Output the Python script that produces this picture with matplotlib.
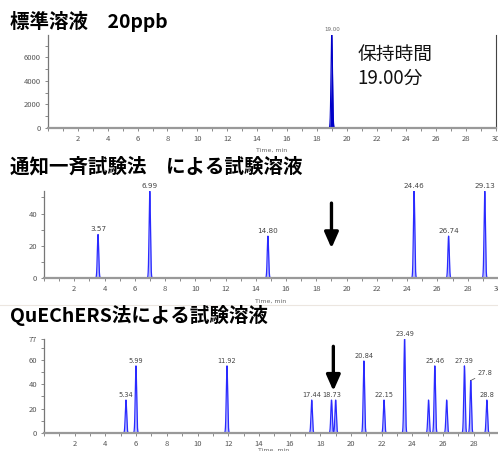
import numpy as np
import matplotlib.pyplot as plt
from matplotlib.ticker import MultipleLocator, FixedLocator

plt.rcParams['font.family'] = ['Noto Sans CJK JP', 'DejaVu Sans']

# ---------------- data ----------------
std_rt = [19.00]
std_h = [8000]
std_labels = ['19.00']

notice_rt = [3.57, 6.99, 14.80, 24.46, 26.74, 29.13]
notice_h = [27, 54, 26, 54, 26, 54]
notice_labels = ['3.57', '6.99', '14.80', '24.46', '26.74', '29.13']

quech_rt = [5.34, 5.99, 11.92, 17.44, 18.73, 19.00, 20.84, 22.15, 23.49,
            25.05, 25.46, 26.23, 27.39, 27.80, 28.85]
quech_h = [27, 55, 55, 27, 27, 27, 59, 27, 77, 27, 55, 27, 55, 43, 27]
quech_labels = ['5.34', '5.99', '11.92', '17.44', '18.73', '', '20.84', '22.15',
                '23.49', '', '25.46', '', '27.39', '27.8', '28.8']

titles = ['標準溶液　20ppb', '通知一斉試験法　による試験溶液', 'QuEChERS法による試験溶液']
target_rt = 19.0

W, H = 498, 451
fig = plt.figure(figsize=(W / 100, H / 100), dpi=100)


def px_axes(left, right, top, bottom):
    return fig.add_axes([left / W, (H - bottom) / H, (right - left) / W, (bottom - top) / H])


t = np.linspace(0, 30, 12001)


def trace(rts, hs, sigma):
    y = np.zeros_like(t)
    for r, h in zip(rts, hs):
        y += h * np.exp(-0.5 * ((t - r) / sigma) ** 2)
    return y


def style(ax, ymax, yticks, yminor, right_spine=False):
    ax.set_xlim(0, 30)
    ax.set_ylim(0, ymax)
    for s in ['top', 'right']:
        ax.spines[s].set_visible(False)
    if right_spine:
        ax.spines['right'].set_visible(True)
        ax.spines['right'].set_color('#444444')
        ax.spines['right'].set_linewidth(0.8)
    ax.spines['left'].set_color('#777777')
    ax.spines['left'].set_linewidth(0.9)
    ax.spines['bottom'].set_color('#999999')
    ax.spines['bottom'].set_linewidth(1.6)
    ax.xaxis.set_major_locator(FixedLocator(list(range(2, 31, 2))))
    ax.xaxis.set_minor_locator(MultipleLocator(1))
    ax.yaxis.set_major_locator(FixedLocator(yticks))
    ax.yaxis.set_minor_locator(MultipleLocator(yminor))
    ax.tick_params(axis='both', which='both', direction='out', color='#777777',
                   labelsize=5.5, labelcolor='#555555', length=2, width=0.6, pad=3)
    ax.patch.set_alpha(0)


# ---------- panel 1 ----------
ax1 = px_axes(48, 496, 35, 128)
y1 = trace(std_rt, std_h, 0.05)
ax1.fill_between(t, 0, y1, color='#0000c8', lw=0)
ax1.plot(t, y1, color='#0000c8', lw=0.8)
style(ax1, 7900, [0, 2000, 4000, 6000], 1000, right_spine=True)
for r, h, lab in zip(std_rt, std_h, std_labels):
    ax1.annotate(lab, (r, h), xytext=(0, 1.5), textcoords='offset points',
                 ha='center', va='bottom', fontsize=4, color='#666666',
                 family='DejaVu Sans', annotation_clip=False)
ax1.text(0.69, 0.66, '保持時間\n19.00分', transform=ax1.transAxes, fontsize=13.5,
         ha='left', va='center', linespacing=1.15, color='#111111')

# ---------- panel 2 ----------
ax2 = px_axes(44, 44 + 30 * 15.13, 191, 278)
y2 = trace(notice_rt, notice_h, 0.045)
ax2.fill_between(t, 0, y2, color='#b4b8ff', lw=0)
ax2.plot(t, y2, color='#2a2aff', lw=0.9)
style(ax2, 54, [0, 20, 40], 10)
for r, h, lab in zip(notice_rt, notice_h, notice_labels):
    ax2.annotate(lab, (r, h), xytext=(0, 1.5), textcoords='offset points',
                 ha='center', va='bottom', fontsize=5.2, color='#444444',
                 family='DejaVu Sans', annotation_clip=False)
ax2.annotate('', xy=(target_rt, 18.5), xytext=(target_rt, 46.5),
             arrowprops=dict(arrowstyle='-|>,head_width=0.42,head_length=0.95',
                             lw=2.4, color='black', shrinkA=0, shrinkB=0))

# ---------- panel 3 ----------
ax3 = px_axes(44, 44 + 30 * 15.35, 339, 433)
y3 = trace(quech_rt, quech_h, 0.045)
ax3.fill_between(t, 0, y3, color='#b4b8ff', lw=0)
ax3.plot(t, y3, color='#2a2aff', lw=0.9)
style(ax3, 77, [0, 20, 40, 60, 77], 10)
for r, h, lab in zip(quech_rt, quech_h, quech_labels):
    if not lab:
        continue
    if lab == '27.8':
        ax3.annotate(lab, (r, h), xytext=(5, 3), textcoords='offset points',
                     ha='left', va='bottom', fontsize=4.8, color='#444444',
                     family='DejaVu Sans', annotation_clip=False,
                     arrowprops=dict(arrowstyle='-', lw=0.5, color='#444444',
                                     shrinkA=0, shrinkB=0))
    else:
        ax3.annotate(lab, (r, h), xytext=(0, 1.5), textcoords='offset points',
                     ha='center', va='bottom', fontsize=4.8, color='#444444',
                     family='DejaVu Sans', annotation_clip=False)
ax3.annotate('', xy=(18.85, 34.5), xytext=(18.85, 71),
             arrowprops=dict(arrowstyle='-|>,head_width=0.42,head_length=0.95',
                             lw=2.4, color='black', shrinkA=0, shrinkB=0))

# ---------- titles & axis captions ----------
title_y = [21, 167, 316]
for ttl, yy in zip(titles, title_y):
    fig.text(10 / W, 1 - yy / H, ttl, fontsize=14, fontweight='bold',
             ha='left', va='center', color='black')

for xx, yy in [(256, 150), (255, 301), (258, 450)]:
    fig.text(xx / W, 1 - yy / H, 'Time, min', fontsize=4.5, color='#666666',
             ha='left', va='center', family='DejaVu Sans')

fig.add_artist(plt.Line2D([0, 1], [1 - 305 / H, 1 - 305 / H], color='#ece6e0', lw=0.8))

fig.savefig('out.png', dpi=100)
